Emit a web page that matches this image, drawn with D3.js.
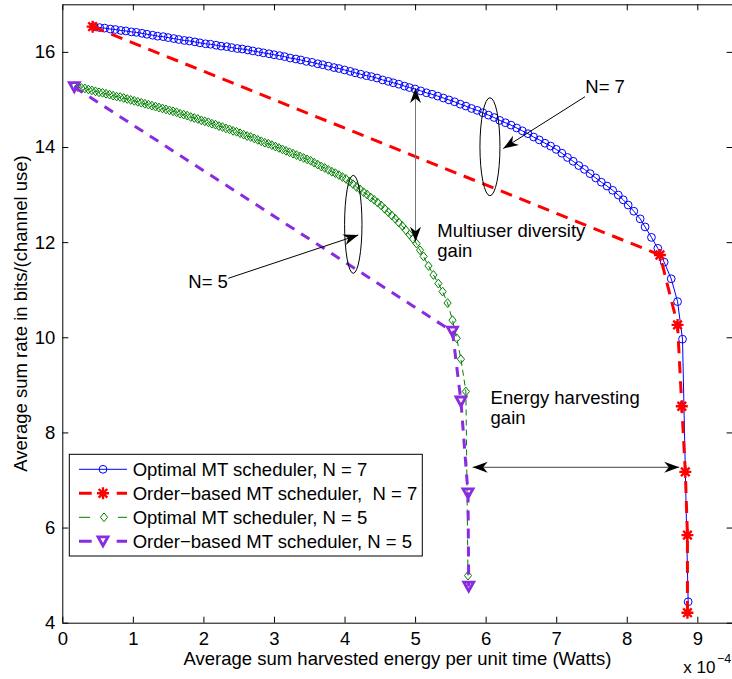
<!DOCTYPE html>
<html><head><meta charset="utf-8">
<script src="https://cdn.jsdelivr.net/npm/d3@7"></script>
<style>
body{margin:0;background:#fff;}
svg{display:block;font-family:'Liberation Sans',Arial,Helvetica,sans-serif;}
</style></head><body>
<svg id="chart" width="732" height="679"></svg>
<script>
// ---------------- data (x in units of 1e-4 W, y in bits/channel use) ----------------
const xTickValues = [0,1,2,3,4,5,6,7,8,9];
const xTickLabels = ["0","1","2","3","4","5","6","7","8","9"];
const yTickValues = [4,6,8,10,12,14,16];
const yTickLabels = ["4","6","8","10","12","14","16"];

const seriesNames = ["Optimal MT scheduler, N = 7","Order\u2212based MT scheduler,  N = 7","Optimal MT scheduler, N = 5","Order\u2212based MT scheduler, N = 5"];

const optN7_x = [0.45,0.53,0.60,0.68,0.75,0.83,0.90,0.98,1.05,1.13,1.20,1.28,1.35,1.43,1.50,1.58,1.65,1.73,1.80,1.88,1.95,2.03,2.10,2.18,2.25,2.33,2.40,2.48,2.55,2.63,2.70,2.78,2.85,2.93,3.00,
 3.08,3.15,3.23,3.31,3.38,3.46,3.54,3.62,3.69,3.77,3.85,3.92,4.00,4.08,4.15,4.23,4.31,4.38,4.46,4.54,4.62,4.69,4.77,4.85,4.92,5.00,
 5.08,5.16,5.24,5.32,5.40,5.48,5.56,5.64,5.72,5.80,5.88,5.96,6.04,6.12,6.20,6.28,6.36,6.44,6.52,
 6.60,6.68,6.76,6.84,6.92,7.00,7.08,7.16,7.24,7.32,7.40,7.48,7.56,7.64,7.72,7.80,
 7.88,7.95,8.02,8.10,8.19,8.26,8.35,8.44,8.53,8.63,8.72,8.79,8.87];
const optN7_y = [16.53,16.51,16.50,16.48,16.47,16.45,16.44,16.42,16.41,16.39,16.37,16.35,16.33,16.32,16.30,16.28,16.26,16.24,16.23,16.21,16.19,16.17,16.16,16.14,16.12,16.11,16.09,16.07,16.06,16.04,16.02,16.00,15.98,15.96,15.94,
 15.92,15.90,15.87,15.85,15.83,15.80,15.78,15.75,15.73,15.70,15.67,15.65,15.62,15.59,15.56,15.53,15.50,15.48,15.45,15.41,15.38,15.35,15.32,15.28,15.25,15.22,
 15.18,15.14,15.11,15.07,15.03,14.99,14.95,14.90,14.86,14.81,14.77,14.72,14.67,14.62,14.56,14.51,14.46,14.40,14.34,
 14.28,14.21,14.15,14.08,14.02,13.95,13.87,13.78,13.70,13.61,13.53,13.44,13.35,13.26,13.18,13.09,
 12.99,12.89,12.78,12.65,12.49,12.32,12.10,11.87,11.58,11.23,10.75,9.96,4.44];

const ordN7_x = [0.43,8.47,8.72,8.78,8.83,8.86,8.86];
const ordN7_y = [16.53,11.73,10.26,8.55,7.17,5.84,4.21];

const optN5_x = [0.17,0.22,0.27,0.32,0.37,0.42,0.47,0.52,0.57,0.62,0.67,0.72,0.77,0.82,0.87,0.92,0.97,1.02,1.07,1.12,1.17,1.22,1.27,1.32,1.37,1.42,1.47,1.52,1.57,1.62,1.67,1.72,1.77,1.82,1.87,1.92,1.97,2.02,2.07,2.12,2.17,2.22,2.27,2.32,2.37,2.42,2.47,2.52,2.57,2.62,2.67,2.72,2.77,2.82,2.87,2.92,2.97,
 3.02,3.07,3.12,3.17,3.22,3.27,3.32,3.37,3.42,3.47,3.52,3.57,3.62,3.67,3.72,3.77,3.82,3.87,3.92,3.97,4.02,4.07,4.12,4.17,4.22,4.27,4.32,4.37,4.42,4.47,
 4.52,4.57,4.62,4.67,4.72,4.77,4.82,4.87,4.92,4.97,5.02,5.07,5.12,5.19,5.26,5.33,5.39,5.46,5.53,5.59,5.65,5.72,5.75];
const optN5_y = [15.28,15.26,15.24,15.23,15.21,15.19,15.17,15.15,15.14,15.12,15.10,15.08,15.06,15.05,15.03,15.01,14.99,14.97,14.95,14.93,14.91,14.89,14.87,14.85,14.83,14.81,14.79,14.77,14.75,14.73,14.70,14.68,14.66,14.63,14.61,14.59,14.56,14.54,14.52,14.49,14.47,14.44,14.42,14.39,14.37,14.34,14.32,14.29,14.26,14.23,14.21,14.18,14.15,14.12,14.09,14.07,14.04,
 14.01,13.98,13.95,13.92,13.89,13.86,13.83,13.80,13.77,13.74,13.71,13.67,13.63,13.59,13.56,13.52,13.48,13.45,13.41,13.37,13.33,13.27,13.22,13.16,13.11,13.05,13.00,12.94,12.89,12.83,
 12.77,12.70,12.63,12.56,12.49,12.41,12.34,12.25,12.16,12.07,11.97,11.83,11.70,11.50,11.31,11.13,10.96,10.72,10.36,9.98,9.54,8.86,4.99];

const ordN5_x = [0.17,5.53,5.65,5.75,5.76];
const ordN5_y = [15.26,10.12,8.65,6.72,4.76];

// ---------------- layout ----------------
const svg = d3.select("#chart");
const L = 62.3, R = 732.6, T = 4.3, B = 622.7;
const x = d3.scaleLinear().domain([0, 9.5]).range([L, R]);
const y = d3.scaleLinear().domain([4, 17]).range([B, T]);
const FS = 18.5;

const zip = (xs, ys) => xs.map((v, i) => [v, ys[i]]);
const line = d3.line().x(d => x(d[0])).y(d => y(d[1]));

// axes
function styleAxis(g, showLabels) {
  g.attr("font-size", FS).attr("font-family", "'Liberation Sans',Arial,Helvetica,sans-serif");
  g.selectAll("path.domain").attr("stroke", "#000").attr("stroke-width", 1);
  g.selectAll(".tick line").attr("stroke", "#000").attr("stroke-width", 1);
  g.selectAll(".tick text").attr("fill", "#000");
  if (!showLabels) g.selectAll(".tick text").remove();
}
const gB = svg.append("g").attr("transform", `translate(0,${B})`)
  .call(d3.axisBottom(x).tickValues(xTickValues).tickFormat((d, i) => xTickLabels[i]).tickSizeInner(-6).tickSizeOuter(0).tickPadding(9));
styleAxis(gB, true);
const gT = svg.append("g").attr("transform", `translate(0,${T})`)
  .call(d3.axisTop(x).tickValues(xTickValues).tickSizeInner(-6).tickSizeOuter(0));
styleAxis(gT, false);
const gL = svg.append("g").attr("transform", `translate(${L},0)`)
  .call(d3.axisLeft(y).tickValues(yTickValues).tickFormat((d, i) => yTickLabels[i]).tickSizeInner(-6).tickSizeOuter(0).tickPadding(7));
styleAxis(gL, true);
const gR = svg.append("g").attr("transform", `translate(${R},0)`)
  .call(d3.axisRight(y).tickValues(yTickValues).tickSizeInner(-6).tickSizeOuter(0));
styleAxis(gR, false);

// axis labels
svg.append("text").attr("x", (L + R) / 2).attr("y", 665).attr("text-anchor", "middle")
  .attr("font-size", FS).attr("fill", "#000").text("Average sum harvested energy per unit time (Watts)");
svg.append("text").attr("transform", `translate(27,${(T + B) / 2}) rotate(-90)`).attr("text-anchor", "middle")
  .attr("font-size", FS).attr("fill", "#000").text("Average sum rate in bits/(channel use)");
svg.append("text").attr("x", 683.3).attr("y", 673).attr("font-size", 17).attr("fill", "#000").text("x 10");
svg.append("text").attr("x", 717).attr("y", 663).attr("font-size", 12.5).attr("fill", "#000").text("\u22124");

// marker helpers
const COL = { blue: "#0000ff", red: "#ff0000", green: "#008000", purple: "#8a2be2" };
function circleMarker(g, cx, cy) {
  g.append("circle").attr("cx", cx).attr("cy", cy).attr("r", 3.9)
    .attr("fill", "none").attr("stroke", COL.blue).attr("stroke-width", 1);
}
function starMarker(g, cx, cy) {
  const s = 6, d = 4.3;
  const p = `M${cx - s},${cy}H${cx + s}M${cx},${cy - s}V${cy + s}M${cx - d},${cy - d}L${cx + d},${cy + d}M${cx - d},${cy + d}L${cx + d},${cy - d}`;
  g.append("path").attr("d", p).attr("stroke", COL.red).attr("stroke-width", 2.4).attr("fill", "none");
}
function diamondMarker(g, cx, cy) {
  const w = 3.6, h = 4.4;
  g.append("path").attr("d", `M${cx},${cy - h}L${cx + w},${cy}L${cx},${cy + h}L${cx - w},${cy}Z`)
    .attr("fill", "none").attr("stroke", COL.green).attr("stroke-width", 1);
}
function triMarker(g, cx, cy) {
  const w = 5, h = 4.5;
  g.append("path").attr("d", `M${cx - w},${cy - h}L${cx + w},${cy - h}L${cx},${cy + h}Z`)
    .attr("fill", "none").attr("stroke", COL.purple).attr("stroke-width", 2.8).attr("stroke-linejoin", "miter");
}

const plot = svg.append("g");
// Optimal N=7
const d1 = zip(optN7_x, optN7_y);
plot.append("path").attr("d", line(d1)).attr("fill", "none").attr("stroke", COL.blue).attr("stroke-width", 1);
const m1 = plot.append("g"); d1.forEach(d => circleMarker(m1, x(d[0]), y(d[1])));
// Order-based N=7
const d2 = zip(ordN7_x, ordN7_y);
plot.append("path").attr("d", line(d2)).attr("fill", "none").attr("stroke", COL.red).attr("stroke-width", 3).attr("stroke-dasharray", "12,8");
const m2 = plot.append("g"); d2.forEach(d => starMarker(m2, x(d[0]), y(d[1])));
// Optimal N=5
const d3d = zip(optN5_x, optN5_y);
plot.append("path").attr("d", line(d3d)).attr("fill", "none").attr("stroke", COL.green).attr("stroke-width", 1).attr("stroke-dasharray", "6,4");
const m3 = plot.append("g"); d3d.forEach(d => diamondMarker(m3, x(d[0]), y(d[1])));
// Order-based N=5
const d4 = zip(ordN5_x, ordN5_y);
plot.append("path").attr("d", line(d4)).attr("fill", "none").attr("stroke", COL.purple).attr("stroke-width", 3).attr("stroke-dasharray", "10,8");
const m4 = plot.append("g"); d4.forEach(d => triMarker(m4, x(d[0]), y(d[1])));

// ---------------- annotations (data units) ----------------
const ann = svg.append("g");
function arrowHead(g, tx, ty, fx, fy) {
  const dx = tx - fx, dy = ty - fy, len = Math.hypot(dx, dy);
  const ux = dx / len, uy = dy / len, nx = -uy, ny = ux;
  const Lh = 15, W = 5.5, notch = 4.5;
  const p = [[tx, ty], [tx - Lh * ux + W * nx, ty - Lh * uy + W * ny], [tx - (Lh - notch) * ux, ty - (Lh - notch) * uy], [tx - Lh * ux - W * nx, ty - Lh * uy - W * ny]];
  g.append("path").attr("d", "M" + p.map(q => q.join(",")).join("L") + "Z").attr("fill", "#000").attr("stroke", "none");
}
function arrow(g, x1, y1, x2, y2, both, color) {
  const X1 = x(x1), Y1 = y(y1), X2 = x(x2), Y2 = y(y2);
  g.append("line").attr("x1", X1).attr("y1", Y1).attr("x2", X2).attr("y2", Y2)
    .attr("stroke", color).attr("stroke-width", 1);
  arrowHead(g, X2, Y2, X1, Y1);
  if (both) arrowHead(g, X1, Y1, X2, Y2);
}
function ellipse(g, cx, cy, rx, ry) {
  g.append("ellipse").attr("cx", x(cx)).attr("cy", y(cy)).attr("rx", rx).attr("ry", ry)
    .attr("fill", "none").attr("stroke", "#000").attr("stroke-width", 1);
}
function label(g, lx, ly, lines, lh) {
  lines.forEach((t, i) => g.append("text").attr("x", x(lx)).attr("y", y(ly) + i * lh)
    .attr("font-size", FS).attr("fill", "#000").text(t));
}
// N = 7
ellipse(ann, 6.061, 14.006, 10, 49);
arrow(ann, 7.408, 15.057, 6.25, 13.97, false, "#000");
label(ann, 7.412, 15.13, ["N= 7"], 0);
// N = 5
ellipse(ann, 4.124, 12.375, 8.7, 49);
arrow(ann, 2.353, 11.24, 4.195, 12.15, false, "#000");
label(ann, 1.786, 11.03, ["N= 5"], 0);
// Multiuser diversity gain
arrow(ann, 5.006, 12.01, 5.006, 15.24, true, "#777");
label(ann, 5.315, 12.10, ["Multiuser diversity", "gain"], 20);
// Energy harvesting gain
arrow(ann, 5.816, 7.267, 8.744, 7.267, true, "#444");
label(ann, 6.07, 4 + (622.7 - 404) / 47.57, ["Energy harvesting", "gain"], 20);

// ---------------- legend ----------------
const lg = svg.append("g");
lg.append("rect").attr("x", 69.3).attr("y", 454.3).attr("width", 353).attr("height", 101.7)
  .attr("fill", "#fff").attr("stroke", "#000").attr("stroke-width", 1);
const rowY = [469.3, 493.3, 517.3, 541.3];
const lx0 = 79, lx1 = 127, lmx = 103;
// row 1
lg.append("line").attr("x1", lx0).attr("x2", lx1).attr("y1", rowY[0]).attr("y2", rowY[0]).attr("stroke", COL.blue).attr("stroke-width", 1);
circleMarker(lg, lmx, rowY[0]);
// row 2
lg.append("line").attr("x1", lx0).attr("x2", lx1).attr("y1", rowY[1]).attr("y2", rowY[1]).attr("stroke", COL.red).attr("stroke-width", 3).attr("stroke-dasharray", "12.7,25");
starMarker(lg, lmx, rowY[1]);
// row 3
lg.append("line").attr("x1", lx0).attr("x2", lx1).attr("y1", rowY[2]).attr("y2", rowY[2]).attr("stroke", COL.green).attr("stroke-width", 1).attr("stroke-dasharray", "11,28");
diamondMarker(lg, lmx + 1, rowY[2]);
// row 4
lg.append("line").attr("x1", lx0).attr("x2", lx1).attr("y1", rowY[3]).attr("y2", rowY[3]).attr("stroke", COL.purple).attr("stroke-width", 3).attr("stroke-dasharray", "12.7,25");
triMarker(lg, lmx, rowY[3]);
seriesNames.forEach((n, i) => lg.append("text").attr("x", 132.7).attr("y", rowY[i] + 6.5)
  .attr("font-size", FS).attr("fill", "#000").style("white-space", "pre").text(n));
</script>
</body></html>
